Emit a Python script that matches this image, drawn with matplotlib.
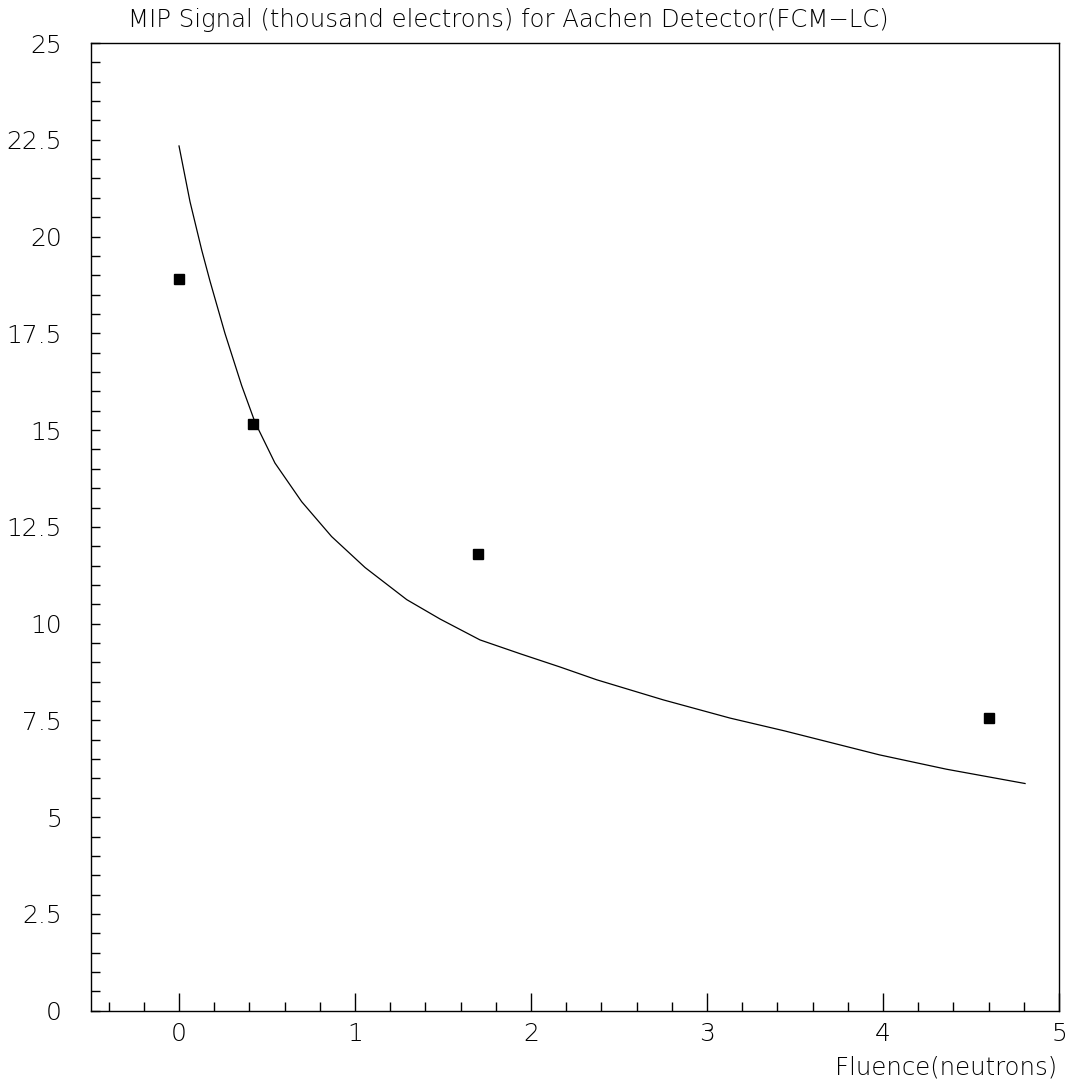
import numpy as np
import matplotlib
matplotlib.use("Agg")
import matplotlib.pyplot as plt
from matplotlib.ticker import MultipleLocator, FuncFormatter

# Measured points (fluence, MIP signal in thousand electrons)
fluence = [0.0, 0.42, 1.70, 4.60]
signal = [18.9, 15.15, 11.8, 7.55]

# Fit curve
fit_x = [0.0, 0.0625, 0.129, 0.176, 0.261, 0.356, 0.432, 0.545, 0.697,
         0.867, 1.057, 1.294, 1.483, 1.71, 1.94, 2.165, 2.373, 2.752,
         3.131, 3.44, 3.98, 4.36, 4.807]
fit_y = [22.34, 20.9, 19.65, 18.85, 17.5, 16.15, 15.2, 14.15, 13.15,
         12.25, 11.45, 10.62, 10.12, 9.58, 9.22, 8.88, 8.55, 8.03,
         7.56, 7.23, 6.61, 6.24, 5.87]

title = "MIP Signal (thousand electrons) for Aachen Detector(FCM\u2212LC)"
xlabel = "Fluence(neutrons)"

plt.rcParams['font.family'] = ['DejaVu Sans']
plt.rcParams['font.weight'] = 200

fig = plt.figure(figsize=(10.72, 10.86), dpi=100)
ax = fig.add_axes([0.0849, 0.0693, 0.9030, 0.8911])

ax.plot(fit_x, fit_y, color="black", linewidth=0.9)
ax.plot(fluence, signal, linestyle="none", marker="s", markersize=7.5,
        color="black")

ax.set_xlim(-0.5, 5)
ax.set_ylim(0, 25)

ax.xaxis.set_major_locator(MultipleLocator(1))
ax.xaxis.set_minor_locator(MultipleLocator(0.2))
ax.yaxis.set_major_locator(MultipleLocator(2.5))
ax.yaxis.set_minor_locator(MultipleLocator(0.5))
ax.yaxis.set_major_formatter(FuncFormatter(lambda v, p: f"{v:g}"))

ax.tick_params(axis="x", which="major", direction="in", length=13, width=1,
               labelsize=18, pad=8, top=False)
ax.tick_params(axis="x", which="minor", direction="in", length=6.5, width=1,
               top=False)
ax.tick_params(axis="y", which="both", direction="in", length=6.5, width=1,
               right=False)
ax.tick_params(axis="y", which="major", labelsize=18, pad=21)

for s in ax.spines.values():
    s.set_linewidth(1.0)

fig.text(128 / 1072, 1 - 20 / 1086, title, ha="left", va="center",
         fontsize=17.6)
fig.text(1057 / 1072, 1 - 1067 / 1086, xlabel, ha="right", va="center",
         fontsize=17.6)

fig.savefig("out.png", dpi=100)
plt.close(fig)
